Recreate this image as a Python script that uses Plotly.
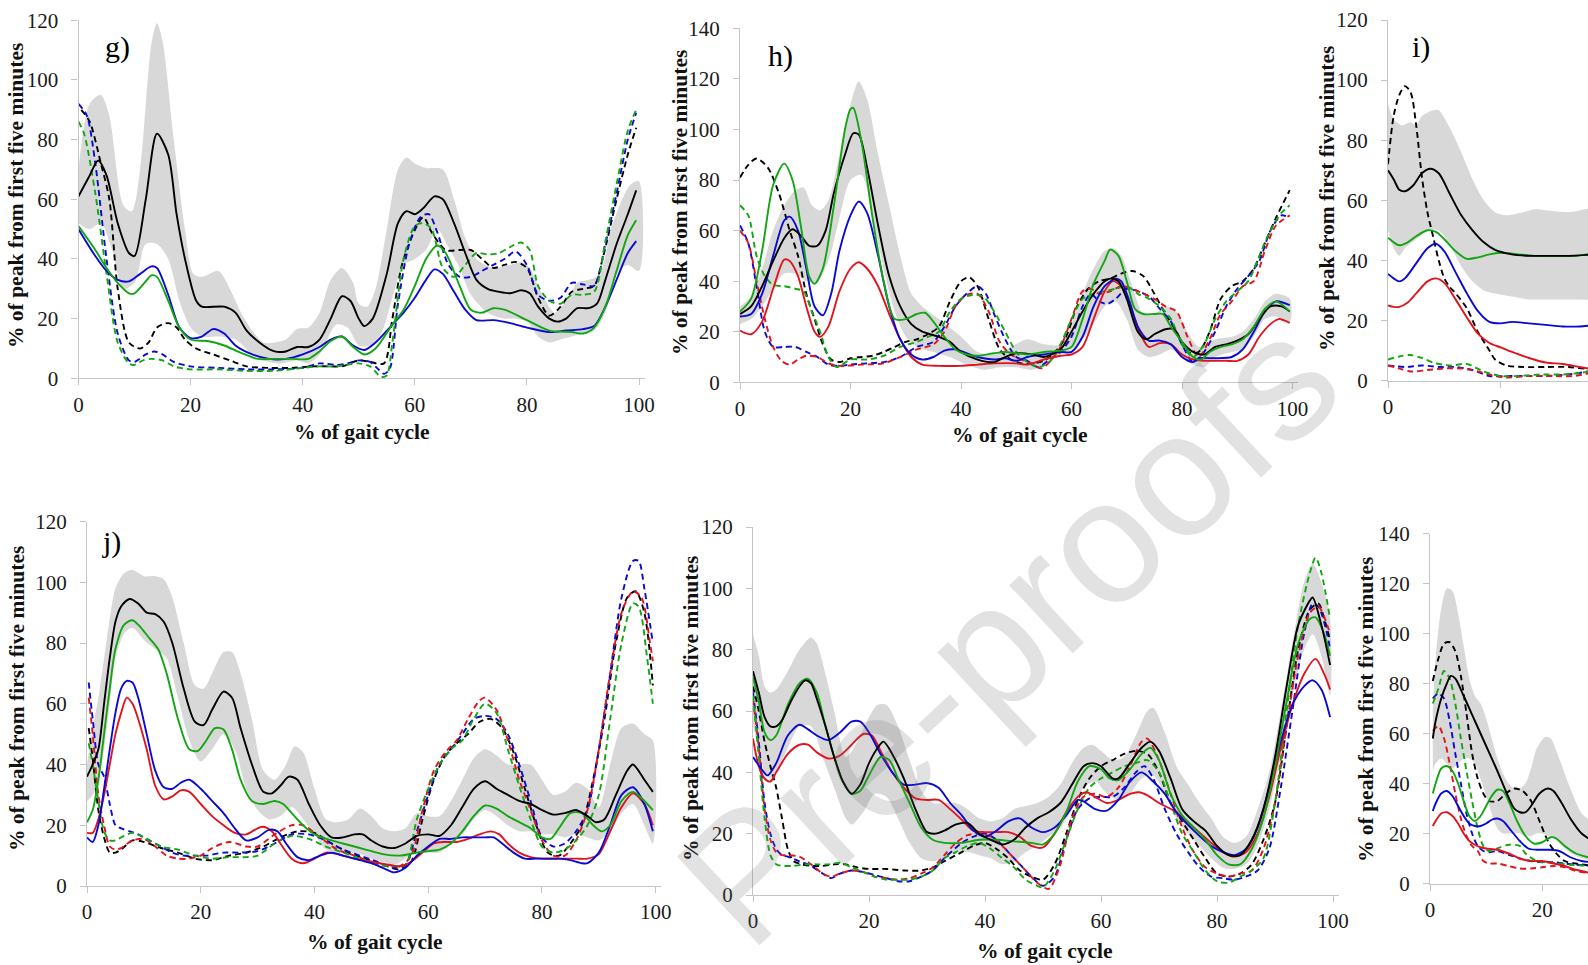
import plotly.graph_objects as go

W, H = 1588, 965

# ---------------- panel g ----------------
G_BAND_UP = [[0,70],[2,92],[4,95],[5.5,88],[8,58],[9.5,56],[11,70],[13,112],[14,119],[15,113],[17,80],[19,50],[20.5,35],[22,34],[25,36],[27,30],[29,22],[31,16],[33,12],[35,12],[37,13],[39,16.5],[41,17],[43,22],[45,33],[47,37],[49,32],[50,25],[51.5,24],[53,30],[55,50],[57,70],[58.5,74],[60,72],[62,70.5],[65,70],[67,60],[69,47],[71,40],[74,37],[77,38],[79,39],[80.5,37],[83,27],[85,22],[87,26],[89,32],[91,33],[93,35],[95,50],[97,60],[98.5,65],[100,66]]
G_BAND_LO = [[0,52],[2,50],[4,52],[6,43],[8,30],[10,32],[12,45],[14,45],[16,40],[18,26],[20,17],[22,14],[25,14],[28,13],[31,8],[33,6],[36,5],[39,6],[41,5],[43,8],[46,18],[48,17],[50,11],[52,11],[54,15],[56,27],[58,38],[60,40],[62,43],[64,50],[66,44],[68,37],[70,28],[73,22],[76,20],[78,20],[80,19],[82,14],[84,12],[86,13],[88,14],[90,15],[92,16],[94,22],[96,35],[98,38],[100,36]]
G_BLACK = [[0,61],[2,68],[3.5,73],[5,68],[7,52],[9,42],[10,41],[12,60],[14,82],[16,75],[17.5,55],[19,40],[21,26],[22,24],[26,24],[28,22],[30,16],[33,11],[35,9],[37,9],[39,10.5],[41,10.5],[43,13],[45,20],[47,27.5],[48.5,26],[50,20],[51,17.5],[52.5,20],[55,35],[57,52],[58.5,56],[60,55],[61.5,57],[63.5,61],[65,60],[67,52],[69,42],[71,33],[73,30],[75,29],[77,28.5],[79,29.5],[80.5,28.5],[82,24],[84,20],[85.5,19],[87,20],[89,23.5],[91,23.5],[92.5,25],[94,33],[96,45],[98,55],[99.5,63]]
G_BLUE = [[0,50],[3,41],[5,36],[7,33],[9,32.5],[11,35],[13,37.5],[14,37],[16,28],[18,17],[20,13.5],[22,14],[24,16.5],[26,15],[28,11],[31,8],[34,6.5],[37,6.5],[40,8],[43,10.5],[45,13],[47,14],[49,11],[51,9.5],[53,12],[56,18],[58,22],[60,27],[62,33],[63.5,36.5],[65,35],[67,29],[69,23],[71,19.5],[74,19.5],[77,18.5],[80,17],[84,15.5],[87,16],[90,16.5],[92,17.5],[94,24],[96,33],[98,42],[99.5,46]]
G_GREEN = [[0,51],[3,43],[5,37],[7,32],[9,28.5],[10,28.5],[12,32.5],[13,34.5],[14,34],[16,26],[18,17],[20,13],[23,12.5],[26,11],[29,8.5],[32,6.5],[35,6.5],[38,6.5],[41,6.5],[43,9],[45,12.5],[47,14],[49,10.5],[51,8],[53,10],[56,18],[58,23],[60,31],[62,40],[64,44.5],[65.5,42],[68,31],[70,23],[72,22],[74,23.5],[76,23],[80,19.5],[84,16],[88,15.5],[90,15],[92,17],[94,24],[96,36],[98,48],[99.5,53]]
G_BLACK_D = [[0.5,90],[2,86],[4,72],[5.5,60],[7,30],[9,12],[11,10],[12.5,12],[14,17],[16,18.5],[17.5,17],[19,13],[21,10],[24,8],[27,6],[30,4],[34,3.5],[38,3.5],[42,4],[45,4],[47,4],[50,6],[52,5.5],[54.5,5],[56,20],[58,40],[61.5,54],[63,49],[65.5,43],[68,43],[70,43],[72,40],[74,37],[76,38],[78,39],[80,37],[82,27],[84,21],[86,24],[88,29],[90,30],[92,31],[93.5,40],[96,60],[98,75],[99.5,84]]
G_BLUE_D = [[0,92],[1.5,88],[3,72],[5,40],[7,15],[9,6],[10,5.5],[12,8],[13.5,9],[15,8],[17,5.5],[20,4],[25,3.5],[30,3],[35,3],[40,3.5],[43,5],[46,4.5],[48,5],[50,6],[52,5.5],[53.5,3],[54.5,1.5],[55.5,3],[57,25],[59,45],[61,54],[62.5,55],[64,49],[66,38],[68,34],[70,34],[72,36],[74,38],[76,40],[78,42.5],[80,38],[82,28],[84,26],[86,27],[88,32],[90,31.5],[92,31],[94,45],[96,62],[98,80],[99.5,89]]
G_GREEN_D = [[0,86],[1,82],[3,62],[5,35],[7,12],[9,5],[10,4.5],[11.5,6],[13,6.5],[15,6],[17,4],[20,3],[25,3],[30,2.5],[35,2.5],[40,3.5],[43,4],[46,4],[50,5],[52,4],[54,0.5],[55,1],[56,12],[58,40],[60,51],[61.5,52],[63,50],[65,37],[67,34],[69,38],[71,42],[73,41.5],[75,42],[77,44],[79,45.5],[80.5,43],[82,31],[84,26],[86,25],[88,28],[90,28],[92,29],[94,46],[96,65],[98,83],[99.5,90]]

# ---------------- panel h ----------------
H_BAND_UP = [[0,30],[2,34],[4,45],[6,60],[8,70],[10,76],[11.5,77],[13,70],[14.5,68],[16,72],[18,90],[20,110],[21.5,119],[23,112],[25,90],[27,70],[29,50],[31,35],[33,30],[36,25],[40,18],[43,12],[46,11],[49,14],[52,17],[55,15],[58,15],[60,23],[62,35],[64,45],[66,52],[67.5,53],[69,50],[71,38],[73,27],[75,27],[77,30],[79,28],[81,20],[83,14],[86,17],[89,18],[91,20],[93,25],[95,32],[97,35],[99.5,33]]
H_BAND_LO = [[0,23],[2,25],[4,30],[6,37],[8,43],[10,43],[12,40],[14,40],[16,48],[18,65],[20,80],[22,82],[24,65],[26,45],[28,28],[30,18],[32,14],[35,12],[38,10],[41,7],[44,5],[47,6],[50,6],[53,5],[56,8],[58,11],[60,13],[62,17],[64,23],[66,30],[68,32],[70,25],[72,13],[74,10],[76,11],[78,13],[80,10],[82,7],[84,6],[86,10],[89,12],[91,13],[93,18],[95,25],[97,26],[99.5,24]]
H_BLACK = [[0,27],[2,30],[4,38],[6,48],[8,57],[9.5,60.5],[11,58],[12.5,54],[14,54],[15.5,60],[17,75],[19,90],[20.5,98.5],[21.5,98],[23,85],[25,62],[27,42],[29,30],[31,23],[33,20],[36,18],[38,16],[40,12],[43,9],[46,8],[48,10],[50,11.5],[53,11],[55,10],[58,13],[60,20],[62,28],[64,35],[66,40],[67,41],[68.5,40],[70,33],[72,20],[73.5,17],[75,19],[77,21],[78.5,21],[80,16],[82,12],[84,11],[86,14],[88,15],[90,16.5],[92,19],[94,25],[96,30],[98,30],[99.5,28]]
H_GREEN = [[0,28],[2,33],[4,52],[6,78],[8,86.5],[9.5,80],[11,62],[12.5,42],[13.5,39],[15,45],[17,70],[19,100],[20,108],[20.5,108.5],[22,95],[24,65],[26,40],[28,25],[30,25],[32,27],[33.5,27.5],[35,24],[37,18],[39,13],[41,11],[43,10.5],[46,11.5],[48,12],[50,11.5],[52,11],[55,12],[58,12.5],[60,14],[62,25],[64,39],[66,48],[67,52.5],[68.5,50],[70,40],[71.5,29],[73,27],[75,27],[76.5,27],[78,22],[80,16],[82,10],[83.5,9],[85,12],[87,14],[89,15],[91,17],[93,22],[95,29],[97,32],[99.5,28]]
H_BLUE = [[0,26],[2,27],[4,35],[6,50],[8,64],[9,65.5],[10.5,60],[12,45],[13.5,30],[15,26.5],[16.5,35],[18,52],[20,66],[21.5,71.5],[23,67],[25,50],[27,30],[29,17],[31,11],[33,9],[35,10],[37,12.5],[39,13],[41,11.5],[43,10],[46,9],[48,9.5],[50,8.5],[52,10],[55,11],[58,12],[60,12],[62,18],[64,30],[66,38],[68,41],[69,40],[70.5,32],[72,22],[74,16.5],[76,16.5],[78,15],[80,10],[82,8],[83,9.5],[86,9.5],[89,10],[91,13],[93,20],[95,28],[97,32],[99.5,30.5]]
H_RED = [[0,20.5],[2,19],[4,24],[6,37],[8,48.5],[9,48],[10.5,42],[12,30],[13.5,20],[14.5,18],[16,22],[18,36],[20,45],[21.5,47.5],[23,45],[25,38],[27,27],[29,17],[31,10],[33,7],[36,6.5],[40,6.5],[43,7],[46,7.5],[50,7.5],[52,7],[55,9],[58,10.5],[60,11],[62,14],[64,25],[66,36],[67.5,40],[69,38],[71,28],[72.5,19],[74,14],[76,15.5],[78,15],[80,11],[82,9],[84,8.5],[88,8.5],[90,8.5],[92,11],[94,18],[96,23],[97.5,25],[99.5,23.5]]
H_BLACK_D = [[0,81],[1.5,86],[3,88.5],[5,85],[7,75],[9,60],[10.5,50],[12,35],[13.5,25],[15,15],[16.5,9],[18,8],[20,9.5],[22,10],[24,10.5],[26,12],[28,14],[30,16],[32,17],[34,19],[36,22],[38,32],[40,40],[41.5,41.5],[43,38],[45,25],[47,13],[49,9],[51,7.5],[53,7.5],[55,8.5],[57,12],[59,18],[61,30],[63,37],[65,40],[67,41],[69,43],[71,44],[73,42],[75,35],[77,27],[79,20],[81,12],[83,12],[85,20],[87,33],[89,38],[91,40],[93,45],[95,55],[97,65],[99.5,76]]
H_BLUE_D = [[0,62],[1.5,55],[3,38],[4.5,20],[6,14],[8,14],[10,14],[12,12],[14,10],[16,7],[18,6.5],[20,7],[23,7.5],[26,8],[29,10],[32,14],[35,16],[37,22],[39,30],[41,35],[43,38],[44.5,35],[46,27],[48,17],[50,10],[52,8.5],[54,6],[56,9],[58,12],[60,18],[62,30],[63.5,35],[65,32],[66.5,31],[68,33],[70,37],[72,36],[74,34],[76,29],[78,24],[80,15],[82,8],[84,12],[86,20],[88,30],[90,37],[92,42],[94,48],[96,60],[98,66],[99.5,65]]
H_RED_D = [[0,60],[1.5,55],[3,40],[4.5,25],[6,14],[7.5,8.5],[9,7],[10.5,9],[12,10.5],[14,10],[16,7.5],[18,6.5],[22,7],[26,7.5],[29,10],[32,13],[35,15],[37,20],[39,30],[41,34.5],[43,35],[45,28],[47,16],[49,11],[51,9],[53,7],[54.5,5.5],[56,8],[58,14],[60,25],[62,36],[63.5,37],[65,35],[67,36],[69,38],[71,37],[73,35],[75,33],[77,30],[79,28],[81,18],[83,10],[85,17],[87,27],[89,32],[91,38],[93,40],[95,52],[97,62],[99.5,66]]
H_GREEN_D = [[0,70],[1.5,66],[3,50],[4.5,42],[6,38.5],[8,38],[10,37],[11.5,36],[13,28],[14.5,20],[16,10],[17.5,6],[20,9],[23,9],[26,10.5],[29,14],[32,16],[34,18],[36,20],[38,28],[40,33],[42,34.5],[44,34],[46,28],[48,20],[50,12],[52,8],[54,6],[56,8],[58,15],[60,25],[62,33],[64,35],[66,36],[68,37],[70,38],[72,35],[74,33],[76,30],[78,25],[80,15],[82,10],[84,15],[86,25],[88,32],[90,36],[92,40],[94,50],[96,60],[98,67],[99.5,70]]

# ---------------- panel i ----------------
I_BAND_UP = [[0,92],[1,87],[2.5,85],[4,86],[5,85],[6,88],[8,90],[9,90],[11,84],[13,76],[15,67],[17,60],[19,56],[21,55],[24,56],[26,57],[29,56.5],[32,56],[35,57],[37,57.5]]
I_BAND_LO = [[0,50],[1,44],[2,41.5],[3,44],[5,47],[7,50],[9,50],[11,45],[13,38],[15,33],[17,30],[19,29],[22,28],[25,27],[28,27],[31,27],[34,27],[37,27.5]]
I_BLACK = [[0,70],[1,67],[2,63.5],[3,63],[4.5,65],[6,69],[7.5,70.5],[9,69],[11,62],[13,55],[15,50],[17,46],[19,43.5],[22,42],[25,41.5],[28,41.5],[32,41.5],[37,42]]
I_GREEN = [[0,47.5],[1,46],[2,45],[3.5,46],[5,48],[7,50],[8.5,49.5],[10,47],[12,43],[14,40.5],[16,41],[18,42],[20,42.5],[23,42],[26,41.5],[30,41.5],[33,41.5],[37,42.5]]
I_BLUE = [[0,35.5],[1,34],[2,33],[3,34],[5,39],[7,44],[8.5,45.5],[10,43],[12,36],[14,29],[16,23],[18,19.5],[20,19],[22,19.5],[25,19],[28,18.5],[31,18],[34,18],[37,18.5]]
I_RED = [[0,25],[1,24.5],[2,24.5],[3.5,26],[5,29],[7,33],[8.5,34],[10,32.5],[12,27],[14,21],[16,15.5],[18,12.5],[20,11],[22,9.5],[25,7.5],[28,6],[31,5.5],[34,4.5],[37,3.5]]
I_BLACK_D = [[0,72],[1,88],[2,95],[3,98],[4,96],[5,85],[6,68],[7,56],[8,48],[9,40],[10,34],[11,31],[12,29],[14,24],[16,16],[18,10],[19,7],[21,5],[24,4.5],[28,4.5],[32,4.5],[35,4],[37,4.5]]
I_BLUE_D = [[0,5],[3,4.5],[6,5],[9,4.5],[12,4.5],[15,3.5],[18,1.5],[21,1.5],[24,1.5],[28,1.5],[32,2],[37,3.5]]
I_RED_D = [[0,5],[2,4],[4,3],[7,3.5],[10,4],[13,4],[16,3],[18,2],[21,1],[25,1.5],[29,1.5],[33,1.5],[37,3]]
I_GREEN_D = [[0,7],[2,8],[4,8.5],[6,7.5],[8,6],[11,5],[14,5.5],[17,3],[20,1.5],[23,1.5],[27,2],[31,2],[34,2.5],[37,3.5]]

# ---------------- panel j ----------------
J_BAND_UP = [[0,40],[1,52],[2,62],[3,75],[4,88],[5,98],[6.5,103],[8,104],[10,102],[12,102],[13.5,101],[15,95],[17,80],[19,66],[20.5,65],[22,70],[24,77],[25.5,77],[27,70],[29,55],[31,38],[33,35],[35,40],[36.5,46],[38,44],[40,32],[42,22],[44,21],[46,22],[48,25.5],[50,23],[52,19],[54,18],[56,19],[58,24],[60,23],[62,23],[64,28],[66,35],[68,42],[70,45],[72,43],[74,40],[76,40],[78,40],[80,35],[82,30],[84,31],[86,34],[88,32],[90,26],[92,40],[94,52],[96,53.5],[98,50],[99.5,48]]
J_BAND_LO = [[0,28],[1,30],[2,35],[3,45],[4,60],[5,75],[6.5,83],[8,85],[10,81],[12,78],[14,75],[16,62],[18,48],[20,41],[22,45],[24,50],[26,45],[28,32],[30,25],[32,22],[34,23],[36,26],[38,22],[40,17],[42,12],[44,11],[46,11],[48,10.5],[50,9],[52,8],[54,7],[56,9],[58,11],[60,11],[62,11],[64,14],[66,17],[68,22],[70,25],[72,23],[74,20],[76,18],[78,18],[80,17],[82,17],[84,16],[86,17],[88,16],[90,15],[92,18],[94,24],[96,27],[98,20],[99.5,14]]
J_BLACK = [[0,36],[1,40],[2,45],[3,60],[4,75],[5,87],[6,92],[7.5,94.5],[9,93],[10.5,90],[12,89.5],[13.5,87],[15,80],[17,65],[19,54],[20.5,53],[22,58],[24,64],[25.5,62],[27,52],[29,40],[31,31],[32.5,30.5],[34,33],[35.5,36],[37,35],[39,27],[41,20],[43,16],[45,16],[47,17],[48.5,17],[50,15],[52,13],[54,12.5],[56,14],[58,16.5],[60,17],[62,16.5],[64,20],[66,26],[68,32],[70,34.5],[72,32],[74,30],[76,28],[78,27],[80,25],[82,23.5],[84,24],[86,25],[88,23],[89.5,21],[91,22],[93,30],[95,38],[96,40],[98,35],[99.5,31]]
J_GREEN = [[0,21],[1,25],[2,35],[3,50],[4,65],[5,78],[6.5,86],[8,87.5],[9.5,85],[11,81.5],[12.5,78],[14,70],[16,55],[18,45],[19.5,44.5],[21,48],[22.5,52],[24,51.5],[25.5,45],[27,35],[29,28],[31,27],[33,28],[34.5,27],[36,24],[38,20],[40,17],[43,15],[46,13.5],[49,12],[52,10.5],[55,10],[58,11],[60,11.5],[62,12],[64,14],[66,18],[68,23],[70,26.5],[72,25.5],[74,23],[76,21],[78,19],[80,16],[81.5,15.5],[83,19],[85,24],[87,24],[89,20],[90.5,18],[92,20],[94,28],[96,31],[98,28],[99.5,25]]
J_BLUE = [[0,16],[1,14.5],[2,20],[3,32],[4,45],[5,57],[6,65],[7,67.5],[8,67],[9,62],[10.5,50],[12,38],[13.5,32.5],[15,32],[16.5,34],[18,35],[20,32],[22,28],[24,24],[26,19],[28,15],[30,16],[32,18.5],[33.5,18],[35,14],[37,9.5],[39,8.5],[41,10],[43,11],[45,10],[48,8.5],[50,7.5],[52,6],[54,4.5],[56,6],[58,10],[60,13],[62,15.5],[64,15.5],[66,16],[68,16],[70,16],[71.5,16],[73,14],[75,11],[77,9],[79,9],[81,9],[83,9],[85,8.5],[87,7.5],[88,7.5],[90,11],[92,20],[94,30],[96,32.5],[98,27],[99.5,18]]
J_RED = [[0,17.5],[1,17.5],[2,22],[3,30],[4,40],[5,50],[6,57],[7,62],[8,60],[9,55],[10.5,45],[12,33],[13.5,28.5],[15,29.5],[16.5,31.5],[18,31],[20,27],[22,23],[24,20],[26,17.5],[28,17],[30,19],[31,19.5],[32.5,18],[34,14],[36,9],[38,7.5],[40,9],[42,11],[44,10.5],[47,9],[50,8],[53,7],[55,6.5],[57,8],[59,11],[61,14],[63,14.5],[65,14.5],[67,15.5],[69,17],[71,18],[72.5,17],[74,14],[76,11],[78,9.5],[80,9],[83,9],[86,9],[88,9],[90,10.5],[92,18],[94,26],[96,30.5],[98,27],[99.5,20]]
J_BLACK_D = [[0.3,52],[1,42],[2,25],[3,16],[4,11],[5,11],[6,12],[8,15],[10,14.5],[13,12.5],[16,11],[19,9],[22,8.5],[25,10],[28,11],[31,13],[34,16],[37,18],[40,17.5],[43,14],[46,11],[49,9],[52,7],[55,5.5],[57,8],[59,22],[61,35],[63,43],[65,47],[67,50],[69,54],[71,55],[73,52],[75,44],[77,32],[79,20],[81,11],[83,10],[85,14],[87,20],[89,35],[91,55],[93,80],[95,95],[96.5,97],[98,90],[99.5,66]]
J_BLUE_D = [[0.3,67],[1,55],[2,40],[3,36],[4,27],[5,20],[6,19],[7.5,18],[9,17],[11,15],[13,13],[15,11],[17,10],[19,10],[21,10],[24,11],[27,11],[30,11.5],[33,14],[36,17],[39,17],[42,15],[45,12],[48,10],[51,8],[54,6],[56,7],[58,18],[60,30],[62,40],[64,45],[66,50],[68,55],[70,56],[72,55],[74,50],[76,40],[78,28],[80,16],[82,13],[84,14],[86,18],[88,25],[90,45],[92,70],[94,95],[96,107],[97,107],[98,98],[99.5,80]]
J_RED_D = [[0.3,62],[1,50],[2,30],[3,20],[4,13],[5,12],[6,12.5],[8,15],[10,15.5],[12,13],[14,10],[16,9],[18,9],[20,10],[22,12.5],[25,14.5],[28,13],[30,13],[33,17],[36,20],[38,20],[41,16],[44,12],[47,10],[50,8],[53,7],[55,6.5],[57,10],[59,25],[61,38],[63,44],[65,48],[67,55],[69,61],[70,62],[72,58],[74,48],[76,35],[78,25],[80,15],[82,10],[84,10],[86,15],[88,25],[90,45],[92,70],[94,90],[96,97],[97.5,95],[99,80],[99.5,74]]
J_GREEN_D = [[0.3,47],[1,40],[2,28],[3,18],[4,15],[5,15],[6,16],[8,17.5],[10,16],[13,13],[16,12],[19,10],[22,9],[25,9.5],[28,9.5],[30,10],[33,14],[36,16.5],[39,15.5],[42,13],[45,11],[48,9],[51,7],[54,6.5],[56,7],[58,22],[60,32],[62,40],[64,45],[66,48],[68,55],[70,60],[72,57],[74,45],[76,33],[78,22],[80,13],[82,11],[84,12],[86,15],[88,20],[90,30],[92,55],[94,80],[96,93],[97,92],[98.5,75],[99.5,60]]

# ---------------- panel k ----------------
K_BAND_UP = [[0,85],[1,78],[2,68],[3,66],[4,67],[6,73],[8,80],[10,84],[11,82],[12.5,72],[14,60],[16,45],[18,50],[20,58],[21.5,62],[23,62],[25,55],[27,44],[29,34],[31,30],[33,30],[35,30],[37,28],[39,25],[41,24],[43,25],[45,28],[47,29],[49,30],[51,32],[53,36],[55,43],[57,48],[58.5,49],[60,47],[62,44],[64,45],[66,52],[68,60],[69,61],[71,53],[73,42],[75,36],[77,30],[79,25],[81,19],[83,17],[85,19],[87,28],[89,40],[91,60],[93,82],[95,102],[96.5,108],[98,102],[99.5,90]]
K_BAND_LO = [[0,55],[1,48],[2,40],[3,38],[4,40],[6,48],[8,55],[10,55],[12,45],[14,35],[16,25],[17,23],[19,27],[21,33],[23,32],[25,25],[27,17],[29,12],[31,11],[33,12],[35,14],[37,14],[39,13],[41,12],[43,10],[45,11],[47,14],[49,16],[51,19],[53,22],[55,28],[57,35],[59,37],[61,33],[63,31],[65,33],[67,38],[69,39],[71,33],[73,25],[75,20],[77,16],[79,12],[81,9],[83,8.5],[85,10],[87,16],[89,28],[91,45],[93,65],[95,80],[96.5,85],[98,78],[99.5,65]]
K_BLACK = [[0,73],[1,66],[2,58],[3,55],[4,55],[5,57],[6.5,63],[8,68],[9,70],[10,69],[11,64],[12.5,55],[14,45],[15.5,37],[17,33],[18.5,36],[20,43],[21.5,48],[22.5,50],[24,46],[26,38],[28,28],[30,20.5],[31.5,20],[33,21],[35,23],[37,23.5],[39,20],[41,18],[43,16.5],[45,18],[47,22],[49,25],[51,27],[53,30],[55,36],[57,42],[58.5,43],[60,42],[62,38],[63,38],[65,43],[67,48],[68.5,50],[70,47],[72,38],[74,28],[76,24],[78,21],[80,16],[82,13],[84,13],[86,18],[88,28],[90,45],[92,68],[94,88],[96,96],[96.5,97],[98,88],[99.5,75]]
K_GREEN = [[0,71],[1,63],[2,53],[3,50.5],[4,52],[6,62],[8,69],[9.5,70.5],[11,66],[12.5,55],[14,45],[15.5,37],[17,33],[18.5,34],[20,39],[22,45],[23.5,44],[25,38],[27,30],[29,22],[31,18],[33,17],[36,17],[39,18],[42,18],[45,17.5],[48,17],[50,16.5],[52,20],[54,27],[56,37],[58,42],[60,41],[61.5,38],[63,37.5],[65,41],[67,46],[68.5,48],[70,44],[72,33],[74,26],[76,22],[78,18],[80,13],[82,10],[84,10],[86,15],[88,25],[90,42],[92,63],[94,82],[96,90],[97,90.5],[98.5,85],[99.5,78]]
K_BLUE = [[0,45],[1.5,41],[2.5,39],[4,43],[6,52],[8,55.5],[9.5,54],[11,52],[13,50.5],[15,53],[17,56.5],[18.5,56.5],[20,53],[22,46],[24,40],[26,36],[28,36],[30,36.5],[32,35],[34,30],[36,26],[38,21],[40,19],[42,21],[44,24],[46,25],[48,22],[50,20.5],[52,22],[54,26],[56,31],[57,30.5],[59,28],[61,27.5],[63,31],[65,37],[67,40],[69,37],[71,33],[73,27],[76,21],[79,16],[81,14],[83,13],[85,15],[87,22],[89,35],[91,50],[93,62],[95,68],[96.5,70],[98,67],[99.5,58]]
K_RED = [[0,51],[1,42],[2,38],[3,37],[4,40],[6,46],[8,49],[9.5,49],[11,46.5],[13,44.5],[15,45.5],[17,49],[19,52.5],[20.5,52],[22,47],[24,40],[26,35],[28,31.5],[30,31],[32,31],[34,28],[36,24.5],[38,21],[40,20.5],[42,20.5],[44,20.5],[46,19],[48,16],[50,15.5],[52,20],[54,27],[56,32],[57.5,33.5],[59,32],[61,30],[63,31],[65,33],[66.5,33.5],[68,32.5],[70,30],[73,27],[76,22],[79,17],[81,14],[83,12.5],[85,14],[87,20],[89,32],[91,48],[93,62],[95,72],[97,77],[98.5,72],[99.5,67]]
K_BLACK_D = [[0,68],[1,60],[2,50],[3,42],[4,35],[5,25],[6,15],[7,11],[8.5,10],[10,9.5],[12,9.5],[14,10],[16,10],[18,9],[20,8.5],[23,8.5],[26,8],[29,8],[31,9],[33,11],[36,14],[38,16],[40,17],[42,15],[44,12],[46,8],[48,6],[50,5],[52,10],[54,20],[56,31],[58,38],[60,42],[62,44],[64,46],[66,47],[68,46],[70,40],[72,30],[74,24],[76,18],[78,12],[80,7],[82,6],[84,7],[86,10],[88,18],[90,30],[92,55],[94,80],[96,93],[97.5,95],[98.5,90],[99.5,83]]
K_BLUE_D = [[0,66],[1,50],[2,30],[3,20],[4,15],[5,13],[6,12.5],[8,11],[10,9.5],[12,7],[13.5,5.5],[15,7],[17,8],[19,7.5],[21,6.5],[23,5.5],[25,4.5],[27,4.5],[29,6],[31,8],[33,12],[36,17],[38,19],[40,20],[42,18],[44,14],[46,10],[48,6],[50,3],[52,6],[54,18],[56,28],[58,31.5],[60,32],[62,32],[64,35],[66,40],[67.5,42],[69,38],[71,28],[73,20],[75,14],[77,9],[79,6],[81,5.5],[83,5],[85,6],[87,8],[89,15],[91,35],[93,60],[95,85],[96.5,95],[97.5,94],[99,85],[99.5,80]]
K_RED_D = [[0,64],[1,48],[2,28],[3,18],[4,14],[5,13],[6,13],[8,12.5],[10,10],[12,7],[13.5,6],[15,7],[17,8],[19,7.5],[21,6],[23,5.5],[25,5],[27,5.5],[29,7],[31,9],[33,13],[35,17],[37,19.5],[39,20],[41,19],[43,16],[45,12],[47,8],[49,4],[51,2],[53,10],[55,25],[57,32],[59,33],[61,32],[63,35],[65,42],[67,50],[68,51],[70,44],[72,33],[74,22],[76,14],[78,9],[80,7],[82,6],[84,7],[86,8],[88,15],[90,30],[92,55],[94,78],[96,92],[97.5,94],[99,88],[99.5,85]]
K_GREEN_D = [[0,65],[1,45],[2,25],[3,13],[4,10],[5,9.5],[7,9.5],[9,10],[11,10],[13,10],[15,10.5],[17,9],[19,7.5],[21,6],[23,5],[25,5],[27,5],[29,6],[31,8],[33,12],[35,14],[37,16],[39,17],[41,15],[43,12],[45,9],[47,5],[49,3],[50,2.5],[52,8],[54,18],[56,28],[58,35],[60,38],[62,40],[64,42],[66,43],[68,44],[70,40],[72,30],[74,20],[76,14],[78,8],[80,4.5],[82,4],[84,6],[86,8],[88,12],[90,30],[92,60],[94,88],[96,105],[97,110],[98,105],[99.5,90]]

# ---------------- panel l ----------------
L_BAND_UP = [[0.5,70],[1,90],[2,110],[3,118],[4,117],[5,108],[6,95],[7,82],[8,75],[9,72],[10,66],[11,58],[12,50],[13,44],[14,40],[15,38],[16,38],[17,40],[18,46],[19,54],[20.5,58.5],[21.5,58],[23,50],[25,38],[27,28],[29,24]]
L_BAND_LO = [[0.5,45],[1,48],[2,50],[3,48],[4,46],[5,48],[6,50],[7,50],[8,48],[9,42],[10,35],[11,28],[12,22],[13,20],[14,20],[15,20],[16,20],[17,19],[18,19],[19,20],[20,20],[22,18],[24,14],[26,11],[29,9.5]]
L_BLACK = [[0.5,58],[1,65],[2,74],[3,80],[3.7,83],[4.5,82],[6,75],[8,65],[10,55],[12,45],[13.5,37],[15,30],[16,28.5],[17,28.5],[18,31],[19.5,36],[21,38],[22,37],[23.5,32],[25,26],[27,20],[29,17]]
L_GREEN = [[0.5,36],[1,40],[2,46],[3,47],[4,45],[5,40],[6,33],[7,27],[8,25],[9,27],[10,31],[11,35],[12,37.5],[13,37],[14,33],[15.5,25],[17,19],[18.5,16],[20,16.5],[21.5,18.5],[22.5,18],[24,15],[26,12],[29,10]]
L_BLUE = [[0.5,29],[1,32],[2,36],[3,37],[4,35],[5,31],[6,27],[7,24],[8,23],[9,23],[10,24],[11,25.5],[12,26],[13,25],[14.5,21],[16,17],[17.5,14],[19,13.5],[21,13.5],[23,13],[25,10.5],[27,9],[29,8.5]]
L_RED = [[0.5,23],[1,25],[2,28],[3,28.5],[4,27],[5,24],[6,20],[7,17],[8,15.5],[9,14.5],[10,14],[12,13.5],[14,12],[16,10],[18,9],[20,9],[22,8],[24,7],[26,5.5],[29,4]]
L_BLACK_D = [[0.5,81],[1.5,90],[2.5,96],[3.5,96.5],[4.5,93],[5.5,83],[6.5,68],[7.5,52],[8.5,42],[9.5,36],[10.5,33],[12,33],[13.5,36],[15,38],[16.5,37],[18,33],[19.5,25],[21,17],[22.5,12],[24,9],[26,8],[29,7]]
L_GREEN_D = [[0.5,72],[1.5,78],[2.5,85],[3.5,82],[4.5,72],[5.5,58],[6.5,45],[7.5,33],[8.5,22],[9.5,15],[10.5,13],[12,14],[14,15.5],[16,15],[17,12],[19,9],[21,8.5],[23,8],[25,7.5],[29,7]]
L_BLUE_D = [[0.5,74],[1.5,76],[2.5,74],[3.5,65],[4.5,52],[5.5,40],[6.5,28],[7.5,20],[8.5,15],[9.5,13],[10.5,12.5],[12,13],[14,11.5],[16,10],[18,9],[20,8.5],[22,8.5],[24,8],[26,7.5],[29,7]]
L_RED_D = [[0.5,61],[1.5,63],[2.5,58],[3.5,48],[4.5,36],[5.5,26],[6.5,19],[7.5,15],[8.5,13],[9.5,9],[10.5,8],[12,8],[14,7],[16,6],[18,6],[20,6.5],[22,7],[24,6.5],[26,5],[29,4]]

X_TICKS = [0, 20, 40, 60, 80, 100]
Y_TICKS_120 = [0, 20, 40, 60, 80, 100, 120]
Y_TICKS_140 = [0, 20, 40, 60, 80, 100, 120, 140]

Y_TITLE = "% of peak from first five minutes"
X_TITLE = "% of gait cycle"
WATERMARK = "Pre-proofs"

BLACK = "#000000"
GREEN = "#12a612"
BLUE = "#0a0ad2"
RED = "#e0141e"
BAND = "rgb(216,216,216)"

SERIF = "Liberation Serif, Times New Roman, serif"

# panel geometry in page pixels
PANELS = [
    dict(x0=78.5, ppu=5.605, xmax=101, top=20.3, bot=378.3, ymax=120, yt=Y_TICKS_120,
         band=(G_BAND_UP, G_BAND_LO),
         dashed=[(G_BLACK_D, BLACK), (G_BLUE_D, BLUE), (G_GREEN_D, GREEN)],
         solid=[(G_BLUE, BLUE), (G_GREEN, GREEN), (G_BLACK, BLACK)],
         ytitle=(16, 196), xtitle=(362, 432), label=("g)", 118, 47)),
    dict(x0=740, ppu=5.525, xmax=101, top=28.3, bot=382.3, ymax=140, yt=Y_TICKS_140,
         band=(H_BAND_UP, H_BAND_LO),
         dashed=[(H_BLACK_D, BLACK), (H_BLUE_D, BLUE), (H_RED_D, RED), (H_GREEN_D, GREEN)],
         solid=[(H_RED, RED), (H_BLUE, BLUE), (H_BLACK, BLACK), (H_GREEN, GREEN)],
         ytitle=(680, 203), xtitle=(1020, 435), label=("h)", 780, 56)),
    dict(x0=1388, ppu=5.635, xmax=None, top=20, bot=380.5, ymax=120, yt=Y_TICKS_120,
         band=(I_BAND_UP, I_BAND_LO),
         dashed=[(I_BLACK_D, BLACK), (I_BLUE_D, BLUE), (I_RED_D, RED), (I_GREEN_D, GREEN)],
         solid=[(I_RED, RED), (I_BLUE, BLUE), (I_GREEN, GREEN), (I_BLACK, BLACK)],
         ytitle=(1327, 199), xtitle=None, label=("i)", 1421, 47)),
    dict(x0=87, ppu=5.687, xmax=101, top=521.5, bot=886, ymax=120, yt=Y_TICKS_120,
         band=(J_BAND_UP, J_BAND_LO),
         dashed=[(J_BLACK_D, BLACK), (J_BLUE_D, BLUE), (J_RED_D, RED), (J_GREEN_D, GREEN)],
         solid=[(J_RED, RED), (J_BLUE, BLUE), (J_GREEN, GREEN), (J_BLACK, BLACK)],
         ytitle=(17, 699), xtitle=(375, 942), label=("j)", 111, 542)),
    dict(x0=753, ppu=5.80, xmax=101, top=527, bot=895, ymax=120, yt=Y_TICKS_120,
         band=(K_BAND_UP, K_BAND_LO),
         dashed=[(K_BLACK_D, BLACK), (K_BLUE_D, BLUE), (K_RED_D, RED), (K_GREEN_D, GREEN)],
         solid=[(K_RED, RED), (K_BLUE, BLUE), (K_GREEN, GREEN), (K_BLACK, BLACK)],
         ytitle=(691, 709), xtitle=(1045, 951), label=None),
    dict(x0=1430, ppu=5.615, xmax=None, top=533.5, bot=883.5, ymax=140, yt=Y_TICKS_140,
         band=(L_BAND_UP, L_BAND_LO),
         dashed=[(L_BLACK_D, BLACK), (L_BLUE_D, BLUE), (L_RED_D, RED), (L_GREEN_D, GREEN)],
         solid=[(L_RED, RED), (L_BLUE, BLUE), (L_GREEN, GREEN), (L_BLACK, BLACK)],
         ytitle=(1366, 710), xtitle=None, label=None),
]

fig = go.Figure()
layout = dict(
    width=W, height=H, margin=dict(l=0, r=0, t=0, b=0, pad=0, autoexpand=False),
    paper_bgcolor="white", plot_bgcolor="rgba(0,0,0,0)", showlegend=False,
)
annotations = []

for idx, p in enumerate(PANELS, start=1):
    xa = "x" if idx == 1 else f"x{idx}"
    ya = "y" if idx == 1 else f"y{idx}"
    if p["xmax"] is None:
        xmax = (W - p["x0"]) / p["ppu"]
        right = W
    else:
        xmax = p["xmax"]
        right = p["x0"] + p["ppu"] * xmax
    xdom = [p["x0"] / W, min(right / W, 1.0)]
    ydom = [1 - p["bot"] / H, 1 - p["top"] / H]

    up, lo = p["band"]
    bx = [pt[0] for pt in up] + [pt[0] for pt in reversed(lo)]
    by = [pt[1] for pt in up] + [pt[1] for pt in reversed(lo)]
    fig.add_trace(go.Scatter(x=bx, y=by, mode="lines", fill="toself", fillcolor=BAND,
                             line=dict(width=0, shape="spline", smoothing=0.8),
                             xaxis=xa, yaxis=ya, hoverinfo="skip"))
    for pts, col in p["dashed"]:
        fig.add_trace(go.Scatter(x=[q[0] for q in pts], y=[q[1] for q in pts], mode="lines",
                                 line=dict(color=col, width=1.9, dash="6px,4px", shape="spline", smoothing=0.8),
                                 xaxis=xa, yaxis=ya))
    for pts, col in p["solid"]:
        fig.add_trace(go.Scatter(x=[q[0] for q in pts], y=[q[1] for q in pts], mode="lines",
                                 line=dict(color=col, width=1.9, shape="spline", smoothing=0.8),
                                 xaxis=xa, yaxis=ya))

    axis_common = dict(showgrid=False, zeroline=False, showline=True, linecolor="#c4c4c4",
                       linewidth=1.2, ticks="outside", ticklen=6, tickcolor="#c4c4c4", tickwidth=1.2,
                       automargin=False,
                       tickfont=dict(family=SERIF, size=21, color="#1a1a1a"))
    layout["xaxis" if idx == 1 else f"xaxis{idx}"] = dict(
        axis_common, domain=xdom, range=[0, xmax], tickvals=X_TICKS, anchor=ya,
        ticklabelstandoff=1)
    layout["yaxis" if idx == 1 else f"yaxis{idx}"] = dict(
        axis_common, domain=ydom, range=[0, p["ymax"]], tickvals=p["yt"], anchor=xa,
        ticklabelstandoff=9)

    tx, ty = p["ytitle"]
    annotations.append(dict(text=f"<b>{Y_TITLE}</b>", x=tx / W, y=1 - ty / H, xref="paper", yref="paper",
                            textangle=-90, showarrow=False, xanchor="center", yanchor="middle",
                            font=dict(family=SERIF, size=21.5, color="#111")))
    if p["xtitle"]:
        tx, ty = p["xtitle"]
        annotations.append(dict(text=f"<b>{X_TITLE}</b>", x=tx / W, y=1 - ty / H, xref="paper", yref="paper",
                                showarrow=False, xanchor="center", yanchor="middle",
                                font=dict(family=SERIF, size=21.5, color="#111")))
    if p["label"]:
        t, lx, ly = p["label"]
        annotations.append(dict(text=t, x=lx / W, y=1 - ly / H, xref="paper", yref="paper",
                                showarrow=False, xanchor="center", yanchor="middle",
                                font=dict(family=SERIF, size=30, color="#000")))

# watermark
annotations.append(dict(text=WATERMARK, x=1008 / W, y=1 - 630 / H, xref="paper", yref="paper",
                        textangle=-43, showarrow=False, xanchor="center", yanchor="middle",
                        font=dict(family="Liberation Sans, Arial, sans-serif", size=176,
                                  color="rgba(110,110,110,0.2)")))

layout["annotations"] = annotations
fig.update_layout(**layout)
fig.write_html("out.html", config={"displayModeBar": False},
               post_script="document.body.style.margin='0px';document.body.style.overflow='hidden';")
